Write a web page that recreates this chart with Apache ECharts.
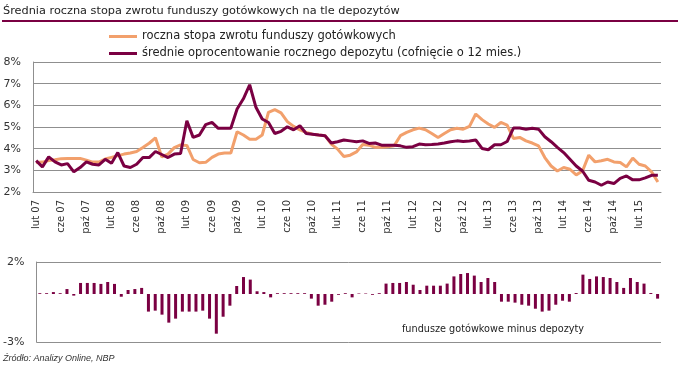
<!DOCTYPE html>
<html><head><meta charset="utf-8">
<script src="https://cdn.jsdelivr.net/npm/echarts@6/dist/echarts.min.js"></script>
<style>html,body{margin:0;padding:0;background:#fff}#c{width:678px;height:368px}</style>
</head><body><div id="c"></div>
<script>
// month labels (Polish abbreviations), chart starts Feb 2007, 100 monthly points
const monthNames = ['sty','lut','mar','kwi','maj','cze','lip','sie','wrz','paź','lis','gru'];
const startYear = 2007, startMonthIdx = 1, monthCount = 100;
const months = [];
for (let k = 0; k < monthCount; k++) {
  const m = (startMonthIdx + k) % 12;
  const y = startYear + Math.floor((startMonthIdx + k) / 12);
  months.push(monthNames[m] + ' ' + String(y % 100).padStart(2, '0'));
}
const barStartOffset = 8;           // bars start at Oct 2007
const barMonths = months.slice(barStartOffset);

const titleText = 'Średnia roczna stopa zwrotu funduszy gotówkowych na tle depozytów';
const fundsName = 'roczna stopa zwrotu funduszy gotówkowych';
const depoName = 'średnie oprocentowanie rocznego depozytu (cofnięcie o 12 mies.)';
const diffLabel = 'fundusze gotówkowe minus depozyty';
const sourceText = 'Źródło: Analizy Online, NBP';

const funds = [3.36,3.38,3.45,3.49,3.54,3.55,3.55,3.55,3.47,3.38,
  3.38,3.52,3.60,3.68,3.75,3.80,3.87,4.05,4.25,4.50,
  3.62,3.75,4.05,4.17,4.15,3.50,3.35,3.37,3.60,3.75,
  3.80,3.80,4.78,4.63,4.44,4.44,4.63,5.68,5.80,5.65,
  5.25,5.03,4.87,4.75,4.67,4.63,4.60,4.21,3.98,3.64,
  3.70,3.85,4.19,4.16,4.06,4.06,4.09,4.13,4.60,4.75,
  4.87,4.95,4.87,4.70,4.52,4.70,4.87,4.94,4.90,5.03,
  5.60,5.34,5.14,4.98,5.21,5.09,4.47,4.52,4.36,4.26,
  4.13,3.59,3.20,2.97,3.13,3.05,2.79,2.97,3.70,3.39,
  3.44,3.51,3.39,3.36,3.16,3.56,3.28,3.20,2.93,2.46];

const deposits = [3.45,3.16,3.62,3.39,3.25,3.31,2.93,3.13,3.39,3.28,
  3.25,3.51,3.33,3.82,3.20,3.13,3.28,3.59,3.59,3.87,
  3.73,3.59,3.75,3.78,5.29,4.52,4.63,5.11,5.21,4.94,
  4.94,4.94,5.83,6.30,6.95,5.91,5.37,5.21,4.70,4.80,
  5.01,4.87,5.06,4.70,4.67,4.63,4.60,4.26,4.32,4.40,
  4.36,4.32,4.36,4.24,4.26,4.16,4.16,4.16,4.13,4.06,
  4.09,4.21,4.18,4.19,4.22,4.26,4.32,4.36,4.33,4.35,
  4.40,4.01,3.95,4.18,4.18,4.33,4.95,4.95,4.90,4.94,
  4.90,4.55,4.32,4.06,3.82,3.51,3.20,2.97,2.54,2.46,
  2.31,2.46,2.39,2.63,2.74,2.56,2.56,2.65,2.77,2.77];

const diff = [0.05,0.05,0.12,0.05,0.31,-0.10,0.69,0.69,0.69,0.63,
  0.75,0.63,-0.17,0.25,0.31,0.38,-1.10,-1.04,-1.29,-1.79,
  -1.54,-1.10,-1.10,-1.10,-1.04,-1.54,-2.48,-1.42,-0.73,0.50,
  1.06,0.90,0.17,0.12,-0.21,0.05,0.05,0.05,0.05,0.05,
  -0.29,-0.73,-0.67,-0.48,-0.05,0.05,-0.21,0.03,0.03,-0.05,
  0.05,0.65,0.69,0.69,0.75,0.58,0.25,0.52,0.52,0.52,
  0.65,1.10,1.25,1.31,1.15,0.75,1.00,0.75,-0.48,-0.48,
  -0.54,-0.67,-0.73,-0.92,-1.10,-1.04,-0.67,-0.42,-0.48,0.06,
  1.21,0.94,1.10,1.06,1.00,0.75,0.38,1.00,0.75,0.65,
  0.06,-0.29];

const ORANGE = '#F2A06C';
const MAROON = '#7A0042';
const GRID = '#8f8f8f';
const TXT = '#222';
const FONT = 'DejaVu Sans';

const chart = echarts.init(document.getElementById('c'), null, {renderer: 'canvas'});
chart.setOption({
  animation: false,
  backgroundColor: '#fff',
  textStyle: {fontFamily: FONT},
  grid: [
    {left: 33, right: 17, top: 62, height: 130},
    {left: 33, right: 17, top: 262, height: 80}
  ],
  legend: {
    orient: 'vertical', left: 109, top: 30, padding: 0, itemGap: 4,
    itemWidth: 28, itemHeight: 3, icon: 'rect',
    textStyle: {fontSize: 11.5, lineHeight: 13, color: TXT, fontFamily: FONT},
    data: [fundsName, depoName]
  },
  xAxis: [
    {type: 'category', gridIndex: 0, data: months, boundaryGap: true,
     axisLine: {lineStyle: {color: GRID}},
     axisTick: {interval: 3, length: 4, lineStyle: {color: GRID}},
     axisLabel: {interval: 3, rotate: 90, margin: 8, fontSize: 10, color: '#333', fontFamily: FONT}},
    {type: 'category', gridIndex: 1, data: barMonths, boundaryGap: true,
     axisLine: {show: false}, axisTick: {show: false}, axisLabel: {show: false}}
  ],
  yAxis: [
    {type: 'value', gridIndex: 0, min: 2, max: 8, interval: 1,
     axisLine: {show: true, lineStyle: {color: GRID}}, axisTick: {show: false},
     splitLine: {lineStyle: {color: GRID}},
     axisLabel: {formatter: '{value}%', fontSize: 11, color: '#333', margin: 12, fontFamily: FONT}},
    {type: 'value', gridIndex: 1, min: -3, max: 2, interval: 5,
     axisLine: {show: true, lineStyle: {color: GRID}}, axisTick: {show: false},
     splitLine: {lineStyle: {color: GRID}},
     axisLabel: {formatter: '{value}%', fontSize: 11, color: '#333', margin: 12, fontFamily: FONT}}
  ],
  series: [
    {name: fundsName, type: 'line', xAxisIndex: 0, yAxisIndex: 0, data: funds,
     symbol: 'none', lineStyle: {width: 3, color: ORANGE}, itemStyle: {color: ORANGE}},
    {name: depoName, type: 'line', xAxisIndex: 0, yAxisIndex: 0, data: deposits,
     symbol: 'none', lineStyle: {width: 3, color: MAROON}, itemStyle: {color: MAROON}},
    {name: diffLabel, type: 'bar', xAxisIndex: 1, yAxisIndex: 1, data: diff,
     barWidth: 3, itemStyle: {color: MAROON}}
  ],
  graphic: [
    {type: 'text', x: 3, y: 6, style: {text: titleText, font: '11.3px "DejaVu Sans"', fill: TXT}},
    {type: 'rect', shape: {x: 2, y: 20, width: 676, height: 2}, style: {fill: MAROON}},
    {type: 'text', x: 493, y: 329, style: {text: diffLabel, font: '9.7px "DejaVu Sans"', fill: TXT, align: 'center', verticalAlign: 'middle', textAlign: 'center', textVerticalAlign: 'middle'}},
    {type: 'text', x: 3, y: 358, style: {text: sourceText, font: 'italic 9px "Liberation Sans"', fill: '#333', verticalAlign: 'middle', textVerticalAlign: 'middle'}}
  ]
});
</script></body></html>
